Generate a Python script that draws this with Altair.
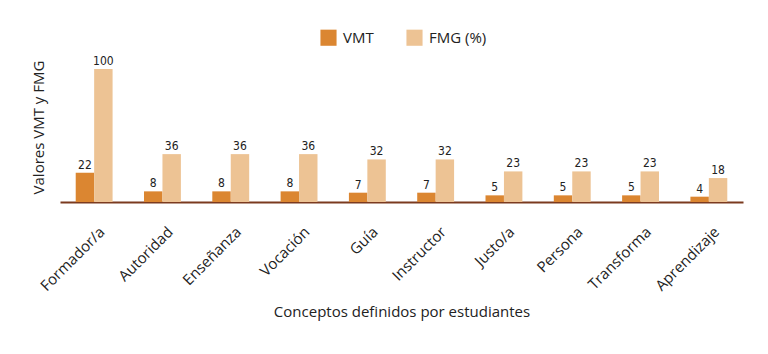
import altair as alt
import pandas as pd

conceptos = ["Formador/a", "Autoridad", "Enseñanza", "Vocación", "Guía",
             "Instructor", "Justo/a", "Persona", "Transforma", "Aprendizaje"]
vmt = [22, 8, 8, 8, 7, 7, 5, 5, 5, 4]
fmg = [100, 36, 36, 36, 32, 32, 23, 23, 23, 18]
series = ["VMT", "FMG (%)"]

rows = []
for c, a, b in zip(conceptos, vmt, fmg):
    rows.append({"Concepto": c, "Serie": series[0], "Valor": a})
    rows.append({"Concepto": c, "Serie": series[1], "Valor": b})
df = pd.DataFrame(rows)

FONT = "Open Sans"
NARROW = "Liberation Sans Narrow, DejaVu Sans Condensed, sans-serif"

x = alt.X("Concepto:N", sort=conceptos,
          scale=alt.Scale(paddingInner=0.46, paddingOuter=0.23),
          axis=alt.Axis(title="Conceptos definidos por estudiantes",
                        labelAngle=-45, labelFontSize=15, labelFont=FONT,
                        labelColor="#222222", ticks=False,
                        domainColor="#7b3a1f", domainWidth=2,
                        labelPadding=22, labelOffset=3, titlePadding=11,
                        titleFont=FONT, titleFontSize=15,
                        titleFontWeight="normal", titleColor="#222222"))
xo = alt.XOffset("Serie:N", sort=series)
y = alt.Y("Valor:Q", scale=alt.Scale(domain=[0, 100], nice=False),
          axis=alt.Axis(title="Valores VMT y FMG", labels=False, ticks=False,
                        domain=False, grid=False, titleFont=FONT,
                        titleFontSize=15, titleFontWeight="normal",
                        titleColor="#222222", titlePadding=14, titleY=58))

color = alt.Color("Serie:N", sort=series,
                  scale=alt.Scale(domain=series, range=["#db8631", "#edc394"]),
                  legend=alt.Legend(title=None, orient="none", direction="horizontal",
                                    legendX=260, legendY=-40, symbolType="square",
                                    symbolSize=260, symbolStrokeWidth=0,
                                    labelFont=FONT, labelFontSize=15,
                                    labelColor="#222222", columnPadding=32,
                                    symbolOffset=0, labelOffset=6))

bars = alt.Chart(df).mark_bar(width={"band": 1}).encode(x=x, xOffset=xo, y=y, color=color)
text = alt.Chart(df).mark_text(dy=-8, font=NARROW, fontSize=12, color="#222222").encode(
    x=x, xOffset=xo, y=y, text="Valor:Q")

chart = alt.layer(bars, text).properties(
    width=683, height=133,
    background="white",
    autosize=alt.AutoSizeParams(type="none"),
    padding={"left": 60, "top": 69, "right": 25, "bottom": 152},
).configure_view(stroke=None)

chart.save("out.html", embed_options={"renderer": "svg", "actions": False})
